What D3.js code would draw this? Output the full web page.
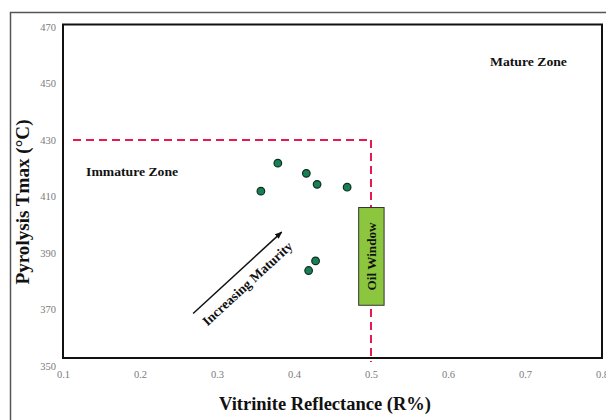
<!DOCTYPE html>
<html>
<head>
<meta charset="utf-8">
<script src="https://cdn.jsdelivr.net/npm/d3@7"></script>
<style>
  html, body { margin: 0; padding: 0; background: #fff; }
  svg { display: block; font-family: "Liberation Serif", "Times New Roman", serif; }
</style>
</head>
<body>
<svg id="chart" width="606" height="420"></svg>
<script>
// Sample measurements: vitrinite reflectance (R%) vs pyrolysis Tmax (°C)
const reflectance = [0.357, 0.379, 0.416, 0.430, 0.469, 0.428, 0.419];
const tmax        = [411.9, 421.8, 418.2, 414.3, 413.3, 387.2, 383.8];

const xTicks = [0.1, 0.2, 0.3, 0.4, 0.5, 0.6, 0.7, 0.8];
const yTicks = [350, 370, 390, 410, 430, 450, 470];

// Zone boundaries
const immatureTmax = 430;
const oilWindowRo = 0.5;
const oilWindowBox = [0.484, 0.517, 371.5, 406.1]; // x0, x1, y0, y1
const maturityArrow = [0.269, 368.6, 0.384, 397.4];  // x0, y0, x1, y1

const svg = d3.select("#chart");
const x = d3.scaleLinear().domain([0.1, 0.8]).range([63, 602]);
const y = d3.scaleLinear().domain([350, 470]).range([366, 27]);

// Outer border of the figure
svg.append("path")
  .attr("d", "M10.5,430 L10.5,12.5 L620,12.5")
  .attr("fill", "none").attr("stroke", "#555").attr("stroke-width", 1.5);

// Plot frame
svg.append("rect")
  .attr("x", 63).attr("y", 24.5).attr("width", 539).attr("height", 333.5)
  .attr("fill", "#fff").attr("stroke", "#111").attr("stroke-width", 2);

// Axes (labels only)
const yAxis = svg.append("g").attr("transform", "translate(56,0)")
  .call(d3.axisLeft(y).tickValues(yTicks).tickSize(0).tickPadding(0).tickFormat(d3.format("d")));
const xAxis = svg.append("g").attr("transform", "translate(0,371)")
  .call(d3.axisBottom(x).tickValues(xTicks).tickSize(0).tickPadding(0).tickFormat(d3.format(".1f")));
[yAxis, xAxis].forEach(g => {
  g.select(".domain").remove();
  g.selectAll("text").attr("font-family", "Liberation Serif, serif")
    .attr("font-size", 10.5).attr("fill", "#7a7a7a");
});

// Immature / oil-window boundaries
const red = "#e8194d";
svg.append("line")
  .attr("x1", x(0.113)).attr("x2", x(oilWindowRo))
  .attr("y1", y(immatureTmax)).attr("y2", y(immatureTmax))
  .attr("stroke", red).attr("stroke-width", 2).attr("stroke-dasharray", "8,5");
svg.append("line")
  .attr("x1", x(oilWindowRo)).attr("x2", x(oilWindowRo))
  .attr("y1", y(immatureTmax)).attr("y2", 362)
  .attr("stroke", red).attr("stroke-width", 2).attr("stroke-dasharray", "8,5");

// Oil window box
const ow = svg.append("g");
ow.append("rect")
  .attr("x", x(oilWindowBox[0])).attr("y", y(oilWindowBox[3]))
  .attr("width", x(oilWindowBox[1]) - x(oilWindowBox[0]))
  .attr("height", y(oilWindowBox[2]) - y(oilWindowBox[3]))
  .attr("fill", "#8cc63e").attr("stroke", "#333").attr("stroke-width", 1);
const owCx = (x(oilWindowBox[0]) + x(oilWindowBox[1])) / 2;
const owCy = (y(oilWindowBox[2]) + y(oilWindowBox[3])) / 2;
ow.append("text")
  .attr("transform", `translate(${owCx + 4.5},${owCy}) rotate(-90)`)
  .attr("text-anchor", "middle").attr("font-size", 13).attr("font-weight", "bold")
  .attr("textLength", 68).attr("lengthAdjust", "spacingAndGlyphs")
  .attr("fill", "#111").text("Oil Window");

// Maturity arrow
svg.append("defs").append("marker")
  .attr("id", "head").attr("viewBox", "0 0 10 10").attr("refX", 9).attr("refY", 5)
  .attr("markerWidth", 5).attr("markerHeight", 5).attr("orient", "auto")
  .append("path").attr("d", "M0,1 L10,5 L0,9 Z").attr("fill", "#111");
svg.append("line")
  .attr("x1", x(maturityArrow[0])).attr("y1", y(maturityArrow[1]))
  .attr("x2", x(maturityArrow[2])).attr("y2", y(maturityArrow[3]))
  .attr("stroke", "#111").attr("stroke-width", 1.5).attr("marker-end", "url(#head)");
const ang = Math.atan2(y(maturityArrow[3]) - y(maturityArrow[1]), x(maturityArrow[2]) - x(maturityArrow[0])) * 180 / Math.PI;
svg.append("text")
  .attr("transform", `translate(${x(0.3435)},${y(378.0)}) rotate(${ang})`)
  .attr("text-anchor", "middle").attr("font-size", 13.5).attr("font-weight", "bold")
  .attr("textLength", 117).attr("lengthAdjust", "spacingAndGlyphs")
  .attr("fill", "#111").text("Increasing Maturity");

// Zone labels
svg.append("text").attr("x", x(0.130)).attr("y", y(417.1))
  .attr("font-size", 13.5).attr("font-weight", "bold")
  .attr("textLength", 92).attr("lengthAdjust", "spacingAndGlyphs")
  .attr("fill", "#111").text("Immature Zone");
svg.append("text").attr("x", x(0.6545)).attr("y", y(456.2))
  .attr("font-size", 13.5).attr("font-weight", "bold")
  .attr("textLength", 77).attr("lengthAdjust", "spacingAndGlyphs")
  .attr("fill", "#111").text("Mature Zone");

// Sample points
svg.append("g").selectAll("circle")
  .data(reflectance.map((r, i) => [r, tmax[i]]))
  .join("circle")
  .attr("cx", d => x(d[0])).attr("cy", d => y(d[1])).attr("r", 3.8)
  .attr("fill", "#1a7f55").attr("stroke", "#0d2f22").attr("stroke-width", 1.2);

// Axis titles
svg.append("text")
  .attr("transform", "translate(29,202) rotate(-90)")
  .attr("text-anchor", "middle").attr("font-size", 18.5).attr("font-weight", "bold")
  .attr("textLength", 165).attr("lengthAdjust", "spacingAndGlyphs")
  .attr("fill", "#111").text("Pyrolysis Tmax (°C)");
svg.append("text")
  .attr("x", 325).attr("y", 410)
  .attr("text-anchor", "middle").attr("font-size", 18.5).attr("font-weight", "bold")
  .attr("textLength", 212).attr("lengthAdjust", "spacingAndGlyphs")
  .attr("fill", "#111").text("Vitrinite Reflectance (R%)");
</script>
</body>
</html>
